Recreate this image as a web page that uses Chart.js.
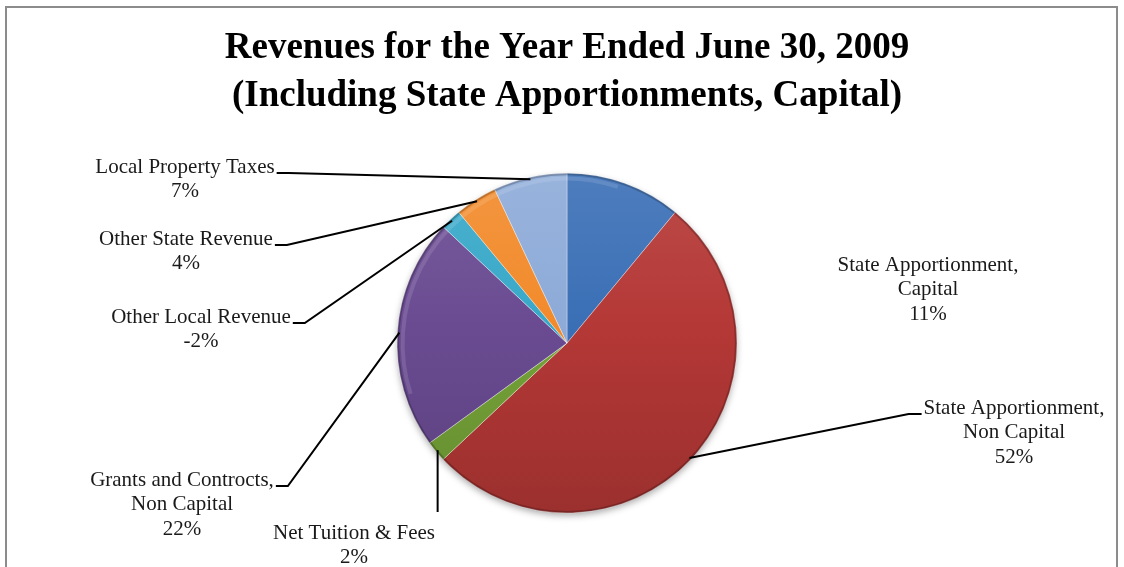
<!DOCTYPE html>
<html lang="en">
<head>
<meta charset="utf-8">
<title>Revenues for the Year Ended June 30, 2009</title>
<script src="https://cdn.jsdelivr.net/npm/chart.js@4.4.0/dist/chart.umd.min.js"></script>
<style>
    html, body { margin: 0; padding: 0; background: #fff; }
    #wrap { width: 1124px; height: 567px; position: relative; }
</style>
</head>
<body>
<div id="wrap"><canvas id="revenuePie"></canvas></div>

<script type="text/javascript">

    const titleLines = ['Revenues for the Year Ended June 30, 2009', '(Including State Apportionments, Capital)'];
    const categories = [
        'State Apportionment, Capital',
        'State Apportionment, Non Capital',
        'Net Tuition & Fees',
        'Grants and Controcts, Non Capital',
        'Other Local Revenue',
        'Other State Revenue',
        'Local Property Taxes'
    ];
    const shares = [11, 52, 2, 22, -2, 4, 7];
    const sliceColors = ['#3A6FB6', '#B43836', '#75A338', '#6A4B92', '#38A8C8', '#F28A2B', '#8DAAD8'];

    // label block placement: centre x, first line y, side the leader line leaves from
    const labelSpots = [
        {x: 928, y: 265, side: null},
        {x: 1014, y: 408, side: 'left'},
        {x: 354, y: 533, side: 'top'},
        {x: 182, y: 480, side: 'right'},
        {x: 201, y: 317, side: 'right'},
        {x: 186, y: 239, side: 'right'},
        {x: 185, y: 167, side: 'right'}
    ];

    function mix(hex, target, amt) {
        const n = parseInt(hex.slice(1), 16);
        const r = (n >> 16) & 255, g = (n >> 8) & 255, b = n & 255;
        const t = target === 'white' ? 255 : 0;
        const f = c => Math.round(c + (t - c) * amt);
        return `rgb(${f(r)},${f(g)},${f(b)})`;
    }

    function pieGeometry(chart) {
        const area = chart.chartArea;
        return {
            cx: (area.left + area.right) / 2,
            cy: (area.top + area.bottom) / 2,
            r: Math.min(area.right - area.left, area.bottom - area.top) / 2
        };
    }

    function sliceFill(context) {
        const chart = context.chart;
        const base = sliceColors[context.dataIndex];
        if (!chart.chartArea) return base;
        const g = pieGeometry(chart);
        const grad = chart.ctx.createLinearGradient(0, g.cy - g.r, 0, g.cy + g.r);
        grad.addColorStop(0, mix(base, 'white', 0.1));
        grad.addColorStop(0.45, base);
        grad.addColorStop(1, mix(base, 'black', 0.14));
        return grad;
    }

    const framePlugin = {
        id: 'frame',
        beforeDraw(chart) {
            const ctx = chart.ctx;
            ctx.save();
            ctx.strokeStyle = '#8c8c8c';
            ctx.lineWidth = 2;
            ctx.strokeRect(6, 7, chart.width - 13, chart.height + 20);
            ctx.restore();
        }
    };

    // soft drop shadow below the pie and a darker rim, like the bevelled original
    const shadePlugin = {
        id: 'pieShade',
        beforeDatasetsDraw(chart) {
            const ctx = chart.ctx;
            const g = pieGeometry(chart);
            ctx.save();
            ctx.shadowColor = 'rgba(0,0,0,0.35)';
            ctx.shadowBlur = 7;
            ctx.shadowOffsetY = 3;
            ctx.fillStyle = '#fff';
            ctx.beginPath();
            ctx.arc(g.cx, g.cy, g.r - 1, 0, Math.PI * 2);
            ctx.fill();
            ctx.restore();
        },
        afterDatasetsDraw(chart) {
            const ctx = chart.ctx;
            const g = pieGeometry(chart);
            ctx.save();
            ctx.strokeStyle = 'rgba(0,0,0,0.22)';
            ctx.lineWidth = 2;
            ctx.beginPath();
            ctx.arc(g.cx, g.cy, g.r - 1.5, 0, Math.PI * 2);
            ctx.stroke();
            ctx.strokeStyle = 'rgba(255,255,255,0.12)';
            ctx.lineWidth = 4;
            ctx.beginPath();
            ctx.arc(g.cx, g.cy, g.r - 6, Math.PI * 0.9, Math.PI * 1.6);
            ctx.stroke();
            ctx.restore();
        }
    };

    const labelPlugin = {
        id: 'sliceLabels',
        afterDraw(chart) {
            const ctx = chart.ctx;
            const arcs = chart.getDatasetMeta(0).data;
            const lineGap = 24.5;
            ctx.save();
            ctx.font = '21px "Liberation Serif", "Times New Roman", serif';
            ctx.textAlign = 'center';
            ctx.textBaseline = 'middle';
            ctx.strokeStyle = '#000';
            ctx.lineWidth = 2;
            ctx.fillStyle = '#1a1a1a';

            categories.forEach((name, i) => {
                const spot = labelSpots[i];
                const lines = name.split(', ');
                const textLines = lines.map((l, k) => k < lines.length - 1 ? l + ',' : l);
                textLines.push(shares[i] + '%');

                textLines.forEach((t, k) => ctx.fillText(t, spot.x, spot.y + k * lineGap));

                if (!spot.side) return;
                const arc = arcs[i];
                const mid = (arc.startAngle + arc.endAngle) / 2;
                const px = arc.x + Math.cos(mid) * (arc.outerRadius - 2);
                const py = arc.y + Math.sin(mid) * (arc.outerRadius - 2);
                const w = ctx.measureText(textLines[0]).width;

                ctx.beginPath();
                if (spot.side === 'right') {
                    const sx = spot.x + w / 2 + 2;
                    ctx.moveTo(sx, spot.y + 6);
                    ctx.lineTo(sx + 12, spot.y + 6);
                } else if (spot.side === 'left') {
                    const sx = spot.x - w / 2 - 2;
                    ctx.moveTo(sx, spot.y + 6);
                    ctx.lineTo(sx - 13, spot.y + 6);
                } else {
                    ctx.moveTo(px, spot.y - 21);
                }
                ctx.lineTo(px, py);
                ctx.stroke();
            });
            ctx.restore();
        }
    };

    new Chart('revenuePie', {
        type: 'pie',
        data: {
            labels: categories,
            datasets: [{
                data: shares,
                backgroundColor: sliceFill,
                borderColor: 'rgba(255,255,255,0.35)',
                borderWidth: 1
            }]
        },
        options: {
            responsive: true,
            maintainAspectRatio: false,
            animation: false,
            layout: {padding: {top: 0, bottom: 53.5, left: 10, right: 0}},
            plugins: {
                legend: {display: false},
                tooltip: {enabled: false},
                title: {
                    display: true,
                    text: titleLines,
                    color: '#000',
                    font: {family: '"Liberation Serif", "Times New Roman", serif', size: 37, weight: 'bold', lineHeight: 1.3},
                    padding: {top: 24, bottom: 52.5}
                }
            }
        },
        plugins: [framePlugin, shadePlugin, labelPlugin]
    });

</script>
</body>
</html>
